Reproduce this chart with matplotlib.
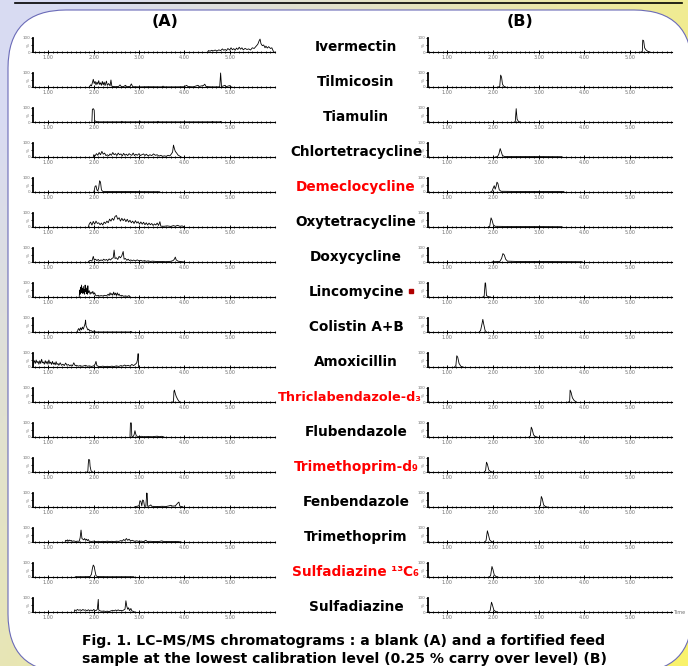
import numpy as np
import matplotlib.pyplot as plt
from matplotlib.patches import FancyBboxPatch, Rectangle
from matplotlib.ticker import MultipleLocator

# compounds (top to bottom) and label colours
compounds = ["Ivermectin", "Tilmicosin", "Tiamulin", "Chlortetracycline",
             "Demeclocycline", "Oxytetracycline", "Doxycycline", "Lincomycine",
             "Colistin A+B", "Amoxicillin", "Thriclabendazole-d\u2083",
             "Flubendazole", "Trimethoprim-d\u2089", "Fenbendazole",
             "Trimethoprim", "Sulfadiazine \u00b9\u00b3C\u2086", "Sulfadiazine"]
label_colors = ["black", "black", "black", "black", "red", "black", "black",
                "black", "black", "black", "red", "black", "red", "black",
                "black", "red", "black"]
x_ticks = [1, 2, 3, 4, 5]
x_tick_labels = ["1.00", "2.00", "3.00", "4.00", "5.00"]

# blank (A) traces : (time min, % intensity)
ivermectin_a = [(4.52,0),(4.53,10),(4.57,6),(4.6,12),(4.64,8),(4.68,14),(4.72,7),(4.76,15),(4.8,10),(4.84,22),
                (4.87,12),(4.9,18),(4.93,10),(4.96,25),(5.0,14),(5.03,30),(5.06,16),(5.09,24),(5.12,12),(5.15,28),
                (5.18,18),(5.21,34),(5.24,20),(5.27,30),(5.3,15),(5.34,26),(5.38,18),(5.42,22),(5.46,14),(5.5,30),
                (5.54,25),(5.58,40),(5.62,55),(5.65,80),(5.67,92),(5.69,60),(5.72,45),(5.75,50),(5.78,30),(5.8,42),
                (5.83,28),(5.86,38),(5.9,25),(5.93,30),(5.96,8),(5.98,0)]
tilmicosin_a = [(1.9,0),(1.93,15),(1.95,8),(1.97,30),(1.99,55),(2.01,25),(2.03,40),(2.05,15),(2.07,35),(2.09,20),
                (2.11,45),(2.13,18),(2.15,30),(2.17,12),(2.19,40),(2.21,15),(2.23,35),(2.25,10),(2.28,42),(2.3,12),
                (2.33,25),(2.36,8),(2.38,50),(2.4,5),(2.45,3),(2.5,2),(2.55,4),(2.58,15),(2.61,2),(2.66,3),(2.7,12),
                (2.73,2),(2.8,4),(2.83,22),(2.86,2),(3.0,1),(3.2,2),(3.5,1),(3.53,6),(3.56,1),(3.8,1),(4.0,2),
                (4.05,12),(4.08,3),(4.2,1),(4.3,12),(4.33,4),(4.38,8),(4.42,10),(4.45,20),(4.48,3),(4.6,1),(4.78,1),
                (4.8,100),(4.82,3),(4.9,12),(4.92,2),(5.0,10),(5.02,1),(5.05,0)]
tiamulin_a = [(1.96,0),(1.97,90),(1.99,95),(2.01,85),(2.02,10),(2.05,4),(2.1,1),(2.6,1),(2.62,5),(2.64,1),(3.0,1),
              (3.02,6),(3.04,1),(3.4,1),(3.42,5),(3.44,1),(4.6,1),(4.62,4),(4.64,1),(4.78,1),(4.8,4),(4.82,0)]
chlortetracycline_a = [(1.99,0),(2.0,16),(2.03,8),(2.06,24),(2.09,12),(2.12,32),(2.15,16),(2.18,40),(2.21,20),
                       (2.24,28),(2.27,10),(2.3,16),(2.33,8),(2.36,22),(2.39,12),(2.42,32),(2.45,16),(2.48,24),
                       (2.51,10),(2.54,28),(2.57,16),(2.6,22),(2.63,8),(2.66,26),(2.69,12),(2.72,20),(2.75,10),
                       (2.78,24),(2.81,16),(2.84,12),(2.87,28),(2.9,10),(2.93,20),(2.96,12),(3.0,24),(3.03,10),
                       (3.06,16),(3.1,22),(3.13,10),(3.16,20),(3.2,8),(3.24,16),(3.28,10),(3.32,22),(3.36,12),
                       (3.4,16),(3.44,6),(3.48,12),(3.52,5),(3.56,8),(3.6,5),(3.64,12),(3.68,8),(3.71,20),(3.74,35),
                       (3.76,85),(3.78,60),(3.8,40),(3.83,28),(3.86,14),(3.9,6),(3.93,0)]
demeclocycline_a = [(2.0,0),(2.01,10),(2.03,40),(2.05,45),(2.07,15),(2.09,8),(2.11,30),(2.13,80),(2.15,70),(2.17,15),
                    (2.2,4),(2.4,3),(2.8,3),(3.2,2),(3.45,2),(3.46,0)]
oxytetracycline_a = [(1.88,0),(1.9,20),(1.93,35),(1.96,14),(1.99,40),(2.02,20),(2.05,42),(2.08,25),(2.11,30),(2.14,16),
                     (2.17,28),(2.2,14),(2.23,35),(2.26,25),(2.29,42),(2.32,30),(2.35,56),(2.38,42),(2.41,62),(2.44,48),
                     (2.47,75),(2.5,82),(2.53,55),(2.56,66),(2.59,42),(2.62,62),(2.65,45),(2.68,58),(2.71,38),(2.74,55),
                     (2.77,35),(2.8,48),(2.83,30),(2.86,42),(2.89,25),(2.92,45),(2.95,28),(2.98,38),(3.01,20),(3.04,36),
                     (3.07,20),(3.1,34),(3.13,16),(3.16,30),(3.19,14),(3.22,28),(3.25,16),(3.28,25),(3.31,11),(3.34,22),
                     (3.37,14),(3.4,28),(3.43,11),(3.46,38),(3.48,6),(3.55,5),(3.62,8),(3.7,4),(3.76,10),(3.8,5),
                     (3.85,12),(3.9,5),(3.95,8),(4.0,0)]
doxycycline_a = [(1.88,0),(1.9,8),(1.93,12),(1.96,6),(1.99,40),(2.01,15),(2.04,20),(2.07,10),(2.1,18),(2.13,8),
                 (2.16,15),(2.19,10),(2.22,20),(2.25,12),(2.28,18),(2.31,10),(2.34,22),(2.37,14),(2.4,25),(2.43,30),
                 (2.45,85),(2.47,25),(2.5,30),(2.53,18),(2.56,40),(2.59,30),(2.62,45),(2.65,75),(2.67,20),(2.7,25),
                 (2.73,12),(2.76,20),(2.79,10),(2.82,15),(2.85,8),(2.88,14),(2.92,8),(2.96,15),(3.0,8),(3.04,12),
                 (3.08,6),(3.12,10),(3.16,5),(3.2,8),(3.25,4),(3.3,6),(3.4,3),(3.5,4),(3.6,2),(3.7,5),(3.75,10),
                 (3.78,20),(3.8,35),(3.82,15),(3.86,6),(3.92,3),(3.98,1),(4.0,0)]
lincomycine_a = [(1.68,0),(1.69,50),(1.7,20),(1.71,70),(1.72,30),(1.73,85),(1.74,35),(1.75,60),(1.76,25),(1.77,75),
                 (1.78,30),(1.79,55),(1.8,20),(1.81,85),(1.82,40),(1.83,65),(1.84,25),(1.85,50),(1.86,20),(1.87,80),
                 (1.88,30),(1.9,45),(1.92,20),(1.94,35),(1.96,25),(1.98,40),(2.0,20),(2.02,30),(2.04,12),(2.07,8),
                 (2.1,12),(2.13,6),(2.16,10),(2.2,7),(2.24,12),(2.28,8),(2.32,20),(2.34,10),(2.36,30),(2.38,15),
                 (2.4,25),(2.42,12),(2.44,35),(2.46,15),(2.48,28),(2.5,10),(2.52,30),(2.54,12),(2.56,22),(2.58,8),
                 (2.62,12),(2.66,5),(2.7,8),(2.74,4),(2.78,10),(2.8,0)]
colistin_a = [(1.64,0),(1.65,15),(1.67,25),(1.69,10),(1.71,30),(1.73,15),(1.75,35),(1.77,20),(1.79,40),(1.81,60),
              (1.82,85),(1.83,45),(1.85,30),(1.87,15),(1.89,20),(1.91,8),(1.94,10),(1.97,4),(2.0,6),(2.02,8),(2.03,0),
              (2.8,0),(2.82,4),(2.84,0)]
amoxicillin_a = [(0.66,0),(0.67,30),(0.69,45),(0.71,25),(0.73,50),(0.75,30),(0.77,40),(0.79,20),(0.81,45),(0.83,25),
                 (0.85,55),(0.87,30),(0.89,35),(0.91,20),(0.93,45),(0.95,25),(0.97,40),(0.99,20),(1.01,50),(1.03,25),
                 (1.05,35),(1.07,18),(1.09,40),(1.11,20),(1.13,30),(1.15,15),(1.17,38),(1.19,18),(1.21,25),(1.23,12),
                 (1.26,30),(1.29,12),(1.32,20),(1.35,10),(1.38,28),(1.41,12),(1.44,18),(1.47,8),(1.5,15),(1.53,8),
                 (1.56,30),(1.59,10),(1.62,12),(1.66,6),(1.7,10),(1.74,5),(1.78,8),(1.82,12),(1.86,5),(1.9,8),
                 (1.95,4),(2.0,8),(2.03,20),(2.05,40),(2.07,10),(2.1,5),(2.15,3),(2.2,6),(2.25,3),(2.3,5),(2.35,3),
                 (2.4,6),(2.45,3),(2.5,8),(2.55,4),(2.6,10),(2.64,6),(2.68,14),(2.72,8),(2.76,12),(2.8,6),(2.84,18),
                 (2.88,10),(2.92,20),(2.95,30),(2.97,60),(2.98,95),(2.99,0)]
thriclabendazole_a = [(3.74,0),(3.76,2),(3.77,75),(3.78,85),(3.8,60),(3.82,40),(3.85,20),(3.88,5),(3.9,0)]
flubendazole_a = [(2.8,0),(2.81,100),(2.83,100),(2.84,5),(2.87,3),(2.89,15),(2.91,45),(2.92,30),(2.94,8),(2.97,4),
                  (3.0,2),(3.05,5),(3.1,2),(3.2,3),(3.3,2),(3.4,6),(3.45,2),(3.5,5),(3.55,0)]
trimethoprim_d9_a = [(1.85,0),(1.87,5),(1.88,60),(1.89,90),(1.91,85),(1.92,40),(1.94,10),(1.96,2),(1.98,0)]
fenbendazole_a = [(2.9,0),(2.93,4),(2.97,6),(3.0,10),(3.02,45),(3.04,40),(3.06,8),(3.08,50),(3.1,45),(3.12,6),
                  (3.15,5),(3.17,100),(3.18,95),(3.19,5),(3.23,8),(3.26,15),(3.28,5),(3.35,4),(3.42,3),(3.5,5),
                  (3.6,4),(3.66,8),(3.7,12),(3.74,6),(3.8,8),(3.86,30),(3.88,35),(3.9,6),(3.95,3),(3.97,0)]
trimethoprim_a = [(1.37,0),(1.38,12),(1.4,8),(1.42,15),(1.44,6),(1.46,14),(1.48,8),(1.5,12),(1.53,5),(1.56,8),
                  (1.6,4),(1.64,6),(1.68,5),(1.7,30),(1.72,85),(1.74,25),(1.76,20),(1.78,15),(1.8,25),(1.82,12),
                  (1.84,20),(1.86,10),(1.88,18),(1.9,6),(1.95,4),(2.0,6),(2.05,3),(2.1,5),(2.15,2),(2.2,5),(2.25,3),
                  (2.3,6),(2.35,3),(2.4,5),(2.45,2),(2.5,6),(2.55,4),(2.6,10),(2.63,6),(2.66,18),(2.69,10),(2.72,25),
                  (2.75,12),(2.78,20),(2.81,8),(2.85,12),(2.9,5),(2.95,8),(3.0,4),(3.05,6),(3.1,3),(3.15,12),(3.18,4),
                  (3.25,5),(3.35,3),(3.45,4),(3.5,8),(3.55,3),(3.65,4),(3.75,3),(3.85,4),(3.93,0)]
sulfadiazine_13c6_a = [(1.59,0),(1.6,2),(1.8,2),(1.92,3),(1.95,20),(1.97,60),(1.99,85),(2.01,75),(2.03,40),(2.05,10),
                       (2.08,3),(2.3,2),(2.6,2),(2.88,2),(2.89,0)]
sulfadiazine_a = [(1.57,0),(1.58,15),(1.61,10),(1.64,18),(1.67,12),(1.7,16),(1.73,10),(1.76,18),(1.79,12),(1.82,15),
                  (1.85,8),(1.88,16),(1.91,10),(1.94,14),(1.97,8),(2.0,18),(2.03,10),(2.06,12),(2.08,20),(2.1,90),
                  (2.11,15),(2.14,8),(2.18,5),(2.22,7),(2.26,4),(2.3,6),(2.34,3),(2.38,8),(2.42,12),(2.45,8),(2.48,14),
                  (2.51,10),(2.54,15),(2.57,9),(2.6,12),(2.63,8),(2.66,14),(2.69,20),(2.71,80),(2.73,40),(2.75,20),
                  (2.77,30),(2.79,10),(2.82,25),(2.84,8),(2.87,5),(2.9,0)]

# fortified feed (B) traces
ivermectin_b = [(5.24,0),(5.27,3),(5.28,85),(5.30,80),(5.32,30),(5.35,15),(5.39,5),(5.44,0)]
tilmicosin_b = [(2.12,0),(2.15,5),(2.17,85),(2.19,70),(2.21,20),(2.24,5),(2.28,0)]
tiamulin_b = [(2.47,0),(2.49,3),(2.51,95),(2.53,20),(2.56,3),(2.6,0)]
chlortetracycline_b = [(2.05,0),(2.1,3),(2.13,20),(2.16,60),(2.18,40),(2.21,10),(2.25,4),(2.6,3),(3.0,3),(3.5,2),(3.52,0)]
demeclocycline_b = [(1.95,0),(1.98,5),(2.01,30),(2.03,45),(2.05,20),(2.07,40),(2.09,70),(2.11,60),(2.14,15),(2.18,5),
                    (2.5,4),(3.0,3),(3.55,3),(3.56,0)]
oxytetracycline_b = [(1.9,0),(1.93,5),(1.96,65),(1.98,50),(2.01,15),(2.05,5),(2.5,3),(3.0,3),(3.5,2),(3.52,0)]
doxycycline_b = [(1.98,0),(2.0,2),(2.15,3),(2.19,25),(2.22,60),(2.25,50),(2.28,20),(2.32,6),(2.6,3),(3.2,3),(3.95,2),(3.96,0)]
lincomycine_b = [(1.78,0),(1.81,8),(1.83,100),(1.84,100),(1.86,10),(1.9,2),(1.95,0)]
colistin_b = [(1.7,0),(1.73,10),(1.76,55),(1.78,90),(1.8,55),(1.83,10),(1.86,0)]
amoxicillin_b = [(1.16,0),(1.19,10),(1.21,80),(1.23,70),(1.26,25),(1.3,5),(1.35,0)]
thriclabendazole_b = [(3.65,0),(3.68,3),(3.69,85),(3.71,70),(3.74,30),(3.78,10),(3.83,0)]
flubendazole_b = [(2.79,0),(2.82,8),(2.84,70),(2.86,55),(2.89,15),(2.93,3),(2.97,0)]
trimethoprim_d9_b = [(1.81,0),(1.84,10),(1.86,70),(1.88,55),(1.91,15),(1.95,3),(1.99,0)]
fenbendazole_b = [(3.01,0),(3.04,10),(3.06,75),(3.08,60),(3.11,15),(3.15,3),(3.19,0)]
trimethoprim_b = [(1.82,0),(1.85,10),(1.88,80),(1.9,55),(1.93,15),(1.97,3),(2.01,0)]
sulfadiazine_13c6_b = [(1.92,0),(1.95,10),(1.98,75),(2.0,55),(2.03,15),(2.07,3),(2.11,0)]
sulfadiazine_b = [(1.91,0),(1.94,10),(1.97,70),(1.99,50),(2.02,15),(2.06,3),(2.1,0)]

traces_a = [ivermectin_a, tilmicosin_a, tiamulin_a, chlortetracycline_a, demeclocycline_a, oxytetracycline_a,
            doxycycline_a, lincomycine_a, colistin_a, amoxicillin_a, thriclabendazole_a, flubendazole_a,
            trimethoprim_d9_a, fenbendazole_a, trimethoprim_a, sulfadiazine_13c6_a, sulfadiazine_a]
traces_b = [ivermectin_b, tilmicosin_b, tiamulin_b, chlortetracycline_b, demeclocycline_b, oxytetracycline_b,
            doxycycline_b, lincomycine_b, colistin_b, amoxicillin_b, thriclabendazole_b, flubendazole_b,
            trimethoprim_d9_b, fenbendazole_b, trimethoprim_b, sulfadiazine_13c6_b, sulfadiazine_b]

W, H = 688, 666
fig = plt.figure(figsize=(W / 100, H / 100), dpi=100)

# fond : dégradé lavande -> jaune + cadre blanc arrondi
bg = fig.add_axes([0, 0, 1, 1])
bg.set_xlim(0, W)
bg.set_ylim(H, 0)
bg.axis('off')
gx, gy = np.meshgrid(np.linspace(0, 1, 200), np.linspace(0, 1, 200))
s = np.clip(0.8 * gx + 0.55 * gy - 0.1, 0, 1)[..., None]
lav = np.array([0.85, 0.86, 0.95])
yel = np.array([0.98, 0.95, 0.42])
bg.imshow(lav * (1 - s) + yel * s, extent=[0, W, H, 0], aspect='auto', zorder=0)
bg.add_patch(FancyBboxPatch((8, 10), 684, 662, boxstyle='round,pad=0,rounding_size=58',
                            fc='white', ec='#6b6bb8', lw=0.8, zorder=1))
bg.plot([15, 682], [3, 3], color='black', lw=1.2, zorder=2)
bg.add_patch(Rectangle((409, 289), 4, 4, color='#b00000', zorder=2))

fig.text(165 / W, 1 - 22 / H, "(A)", ha='center', va='center', fontsize=11.5, fontweight='bold')
fig.text(520 / W, 1 - 22 / H, "(B)", ha='center', va='center', fontsize=11.5, fontweight='bold')

grey = '#707070'


def setup(ax, xlim):
    ax.set_xlim(*xlim)
    ax.set_ylim(0, 114)
    ax.patch.set_alpha(0)
    for side in ['top', 'right']:
        ax.spines[side].set_visible(False)
    ax.spines['left'].set_bounds(0, 100)
    ax.spines['left'].set_linewidth(1.3)
    ax.spines['bottom'].set_linewidth(0.8)
    ax.set_xticks(x_ticks)
    ax.set_xticklabels(x_tick_labels, fontsize=3.5, color=grey)
    ax.xaxis.set_minor_locator(MultipleLocator(0.1))
    ax.tick_params(axis='x', which='major', length=2.5, width=0.7, pad=0.8, direction='inout')
    ax.tick_params(axis='x', which='minor', length=1.6, width=0.6, direction='inout')
    ax.set_yticks([0, 50, 100])
    ax.set_yticklabels(['0', '%', '100'], fontsize=3.0, color=grey)
    ax.get_yticklabels()[1].set_rotation(90)
    ax.tick_params(axis='y', length=1.2, width=0.6, pad=0.4)


for i in range(len(compounds)):
    base = 52 + 35 * i
    for left, width, xlim, trace in [(33, 242, (0.66, 6.0), traces_a[i]),
                                     (428, 244, (0.58, 5.92), traces_b[i])]:
        ax = fig.add_axes([left / W, 1 - base / H, width / W, 16 / H])
        setup(ax, xlim)
        t = [p[0] for p in trace]
        y = [p[1] for p in trace]
        ax.plot(t, y, color='black', lw=0.6, clip_on=False)
    if i == len(compounds) - 1:
        ax.text(1.005, 0, "Time", transform=ax.transAxes, fontsize=3.5, color=grey, va='center')
    # le nom le plus long est un peu réduit pour ne pas mordre sur l'axe de (B)
    long_name = len(compounds[i]) > 18
    fig.text((350 if long_name else 356) / W, 1 - (base - 5) / H, compounds[i], ha='center', va='center',
             fontsize=9.2 if long_name else 9.8, fontweight='bold', color=label_colors[i])

fig.text(344 / W, 1 - 641 / H, "Fig. 1. LC\u2013MS/MS chromatograms : a blank (A) and a fortified feed",
         ha='center', va='center', fontsize=10.1, fontweight='bold')
fig.text(344 / W, 1 - 659 / H, "sample at the lowest calibration level (0.25 % carry over level) (B)",
         ha='center', va='center', fontsize=10.1, fontweight='bold')

fig.savefig('out.png', dpi=100)
